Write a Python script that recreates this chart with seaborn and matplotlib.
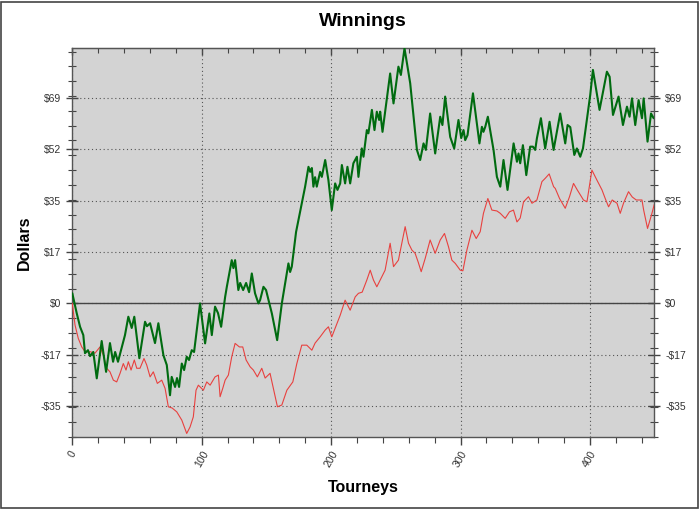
import matplotlib
matplotlib.use("Agg")
import matplotlib.pyplot as plt
from matplotlib.patches import Rectangle
from matplotlib.ticker import MultipleLocator, FixedLocator
import seaborn as sns
import pandas as pd

# green line: cumulative winnings (tourney, dollars)
green_t = [0, 3.4, 6.0, 8.5, 9.8, 12.1, 13.7, 16.2, 18.9, 22.7, 26.1, 29.1, 31.5, 33.1, 35.3,
           40.7, 43.3, 45.9, 47.9, 51.8, 56.2, 57.7, 60.1, 63.9, 66.5, 70.4, 73.0, 75.5, 76.8,
           79.4, 80.9, 82.5, 84.6, 86.4, 88.4, 90.2, 92.3, 94.1, 98.7, 102.6, 105.9, 107.8,
           110.3, 112.6, 115.0, 118.1, 119.4, 123.2, 124.5, 125.8, 128.3, 129.7, 132.0, 134.3,
           136.6, 138.7, 141.2, 143.8, 145.1, 147.7, 149.7, 154.2, 156.7, 158.3, 161.9, 167.0,
           168.3, 169.6, 172.9, 177.3, 178.4, 179.9, 182.5, 183.8, 185.1, 186.3, 187.6, 188.9,
           191.5, 192.8, 195.4, 197.9, 200.5, 203.1, 204.9, 207.0, 208.3, 210.8, 212.6, 214.7,
           217.2, 219.9, 221.1, 223.7, 225.0, 227.6, 228.8, 231.5, 233.5, 235.3, 237.1, 237.9,
           239.7, 245.6, 248.2, 252.0, 253.9, 256.7, 261.1, 266.3, 268.8, 271.4, 273.2, 276.5,
           280.4, 284.3, 286.0, 288.1, 292.0, 295.1, 298.4, 300.5, 302.3, 303.6, 305.4, 309.6,
           314.6, 316.5, 317.7, 319.1, 321.1, 325.5, 328.1, 330.7, 333.2, 336.3, 341.0, 343.6,
           344.8, 346.1, 348.2, 350.8, 353.8, 355.9, 357.7, 359.0, 362.1, 365.4, 368.8, 371.9,
           377.0, 380.9, 382.7, 384.8, 387.9, 389.9, 392.5, 394.6, 400.2, 402.3, 407.4, 413.1,
           415.2, 417.8, 422.1, 425.5, 428.6, 430.6, 432.5, 435.0, 437.6, 440.2, 441.5, 444.5,
           447.2, 449.2]
green_v = [3.4, -3.3, -7.9, -10.7, -16.8, -15.8, -17.8, -16.4, -25.3, -12.7, -23.1, -13.4, -19.7,
           -16.4, -19.7, -10.7, -4.5, -8.3, -4.5, -18.5, -6.2, -7.7, -6.7, -13.4, -6.7, -17.5,
           -20.8, -31.0, -24.8, -28.2, -25.2, -28.2, -20.3, -22.5, -18.0, -19.1, -15.8, -16.4,
           0.0, -13.5, -3.4, -10.7, -1.1, -3.3, -7.9, 2.2, 5.6, 14.6, 11.9, 14.6, 4.5, 6.9, 4.5,
           6.9, 3.8, 10.1, 3.4, 0.0, 1.1, 5.6, 4.5, -3.4, -9.0, -12.4, 0.0, 13.5, 10.6, 12.4,
           24.1, 33.8, 36.2, 39.4, 46.1, 44.4, 45.7, 39.4, 42.6, 39.4, 44.4, 42.7, 48.4, 41.6,
           31.5, 40.5, 38.3, 40.5, 46.7, 40.5, 46.1, 40.5, 47.3, 49.5, 42.7, 52.3, 49.5, 58.5,
           57.4, 65.3, 58.5, 64.7, 61.9, 64.7, 57.9, 77.6, 67.5, 79.9, 77.1, 86.1, 74.3, 51.8,
           48.4, 54.0, 51.8, 64.1, 50.6, 63.0, 60.2, 69.8, 56.2, 52.3, 61.9, 55.8, 58.5, 55.1,
           56.8, 70.9, 54.0, 59.6, 57.9, 59.6, 63.0, 51.8, 42.7, 39.4, 48.4, 38.3, 54.0, 47.8,
           50.6, 47.3, 53.4, 43.3, 52.9, 52.9, 51.8, 55.7, 62.5, 52.3, 61.3, 51.8, 64.1, 54.0,
           60.2, 59.5, 50.1, 52.3, 49.5, 52.3, 70.3, 78.8, 65.3, 78.2, 76.5, 63.6, 69.8, 60.2,
           66.4, 63.0, 69.2, 60.2, 68.6, 62.5, 69.2, 54.6, 64.1, 62.5]

# red line: second series (tourney, dollars)
red_t = [0, 2.1, 4.6, 7.3, 9.8, 13.7, 17.5, 21.4, 24.0, 26.6, 29.1, 31.7, 34.3, 36.9, 39.4, 41.5,
         43.3, 45.4, 47.9, 49.8, 52.3, 55.4, 57.5, 60.1, 62.6, 65.7, 69.1, 71.7, 74.2, 77.1,
         80.7, 84.6, 88.4, 91.0, 93.5, 95.6, 97.4, 101.3, 103.9, 106.5, 110.3, 112.9, 114.2,
         116.3, 118.1, 120.6, 123.2, 125.8, 129.1, 131.7, 134.3, 137.4, 139.9, 143.0, 146.4,
         149.0, 152.8, 155.9, 158.5, 161.9, 165.8, 170.4, 173.5, 177.3, 181.2, 185.1, 187.6,
         191.5, 195.4, 197.9, 200.5, 203.1, 207.0, 210.8, 214.7, 218.6, 221.1, 224.0, 227.6,
         230.2, 232.7, 235.3, 237.9, 241.7, 245.6, 248.2, 252.0, 257.2, 259.8, 262.4, 264.9,
         267.3, 269.6, 272.7, 276.5, 280.4, 284.3, 287.6, 290.7, 293.3, 295.9, 299.8, 301.8,
         304.9, 308.8, 312.1, 315.2, 317.7, 321.1, 324.2, 328.1, 330.7, 334.5, 337.8, 340.9,
         343.6, 346.1, 348.7, 352.5, 355.2, 359.0, 362.9, 365.4, 368.5, 371.9, 373.2, 376.5,
         380.9, 384.2, 387.3, 390.2, 395.0, 397.7, 401.5, 405.4, 409.3, 411.8, 414.4, 417.2,
         420.9, 423.4, 426.0, 429.8, 432.7, 435.8, 440.2, 441.5, 444.5, 447.9, 449.7]
red_v = [0.0, -7.3, -11.8, -14.7, -16.3, -16.3, -16.8, -14.7, -17.5, -21.9, -23.1, -25.9, -26.5,
         -23.6, -20.3, -22.5, -19.7, -22.5, -19.1, -21.9, -21.9, -18.6, -20.8, -24.8, -23.1,
         -27.0, -25.9, -28.7, -34.9, -35.3, -36.6, -39.4, -43.9, -41.7, -38.3, -29.3, -27.6,
         -29.3, -26.5, -27.6, -24.8, -24.2, -31.5, -28.6, -25.9, -24.2, -18.0, -13.5, -14.7,
         -14.7, -19.1, -21.4, -22.5, -24.8, -21.9, -25.2, -23.6, -29.8, -34.9, -34.3, -29.3,
         -26.5, -20.3, -14.1, -14.1, -15.8, -13.4, -11.3, -9.0, -7.9, -11.3, -8.4, -4.0, 1.1,
         -2.3, 2.2, 3.4, 3.8, 7.9, 11.2, 7.9, 5.6, 7.9, 11.2, 20.3, 12.4, 14.6, 25.9, 20.3,
         18.0, 16.9, 13.9, 10.7, 15.2, 21.4, 16.9, 21.4, 23.6, 19.1, 14.6, 13.5, 11.2, 11.0,
         18.0, 24.7, 21.9, 24.2, 30.4, 35.4, 31.5, 31.2, 30.4, 28.7, 30.9, 31.5, 27.5, 28.8,
         34.3, 36.0, 33.8, 34.9, 41.1, 42.2, 43.7, 39.4, 38.8, 35.4, 32.1, 36.0, 40.5, 38.3,
         34.9, 34.3, 45.0, 41.6, 38.3, 35.4, 32.6, 34.9, 33.8, 30.4, 33.9, 37.7, 35.9, 34.9,
         34.9, 31.5, 25.3, 30.4, 33.4]

ytick_vals = [-34.67, -17.33, 0, 17.33, 34.67, 52.0, 69.33]
ytick_labels = ["-$35", "-$17", "$0", "$17", "$35", "$52", "$69"]
xtick_vals = [0, 100, 200, 300, 400]

sns.set_style("white")
plt.rcParams["font.family"] = ["Liberation Sans", "DejaVu Sans"]
plt.rcParams["text.color"] = "black"
plt.rcParams["axes.labelcolor"] = "black"

fig = plt.figure(figsize=(7, 5.09), dpi=100)
ax = fig.add_axes([0.1033, 0.142, 0.8310, 0.7637])
ax.set_facecolor("#d3d3d3")

green = pd.DataFrame({"t": green_t, "v": green_v})
red = pd.DataFrame({"t": red_t, "v": red_v})
sns.lineplot(data=red, x="t", y="v", sort=False, estimator=None, color="#e8413f", lw=0.8, ax=ax, zorder=3)
sns.lineplot(data=green, x="t", y="v", sort=False, estimator=None, color="#006b10", lw=1.5, ax=ax, zorder=4)

ax.set_xlim(0, 449.5)
ax.set_ylim(-45.0, 86.2)

ax.xaxis.set_major_locator(FixedLocator(xtick_vals))
ax.xaxis.set_minor_locator(MultipleLocator(20))
ax.yaxis.set_major_locator(FixedLocator(ytick_vals))
ax.yaxis.set_minor_locator(MultipleLocator(5))
ax.set_yticklabels(ytick_labels)
ax.set_xticklabels([str(v) for v in xtick_vals], rotation=60, ha="center")

ax.grid(True, which="major", color="#555555", linestyle=(0, (1, 2.5)), linewidth=0.8)
ax.axhline(0, color="#444444", lw=1.0, zorder=2)

ax.tick_params(axis="y", which="both", direction="inout", left=True, right=True,
               labelright=True, labelsize=7.5, labelcolor="#333333", color="#444444")
ax.tick_params(axis="y", which="major", length=8, width=1.0, pad=4)
ax.tick_params(axis="y", which="minor", length=6, width=0.8)
ax.tick_params(axis="x", which="both", direction="out", bottom=True,
               labelsize=7.5, labelcolor="#333333", color="#444444")
ax.tick_params(axis="x", which="major", length=6, width=1.0, pad=3)
ax.tick_params(axis="x", which="minor", length=4, width=0.8)

top = ax.secondary_xaxis("top")
top.xaxis.set_major_locator(FixedLocator(xtick_vals))
top.xaxis.set_minor_locator(MultipleLocator(20))
top.tick_params(which="both", direction="in", labeltop=False, color="#444444")
top.tick_params(which="major", length=5, width=1.0)
top.tick_params(which="minor", length=3.5, width=0.8)
top.spines["top"].set_color("#555555")

for s in ax.spines.values():
    s.set_color("#555555")
    s.set_linewidth(1.0)

ax.set_title("Winnings", fontsize=14, fontweight="bold", pad=16, color="black")
ax.set_xlabel("Tourneys", fontsize=11.5, fontweight="bold", labelpad=8)
ax.set_ylabel("Dollars", fontsize=11.5, fontweight="bold", labelpad=6)

fig.add_artist(Rectangle((1 / 700, 1.5 / 509), 697 / 700, 506 / 509, transform=fig.transFigure,
                         fill=False, ec="#444444", lw=1.2))

fig.savefig("out.png", dpi=100)
